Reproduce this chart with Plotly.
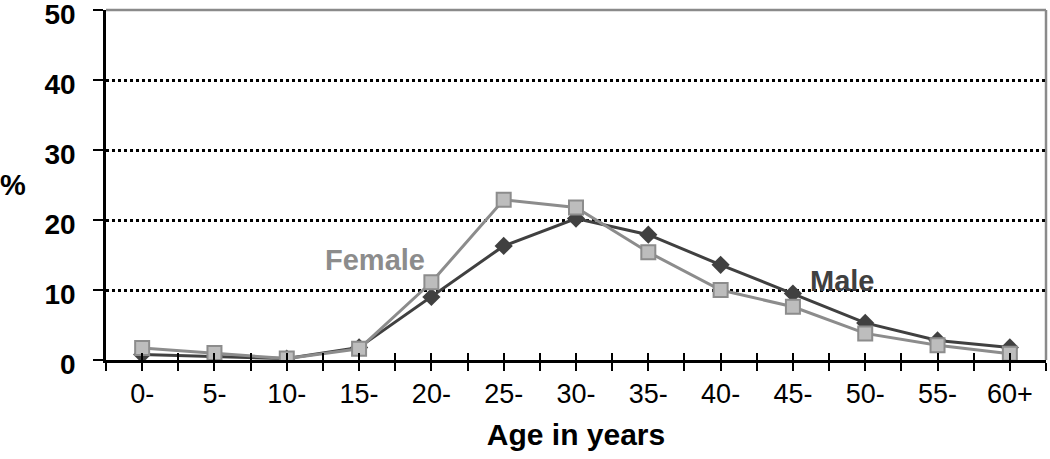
import plotly.graph_objects as go

categories = ["0-", "5-", "10-", "15-", "20-", "25-", "30-", "35-", "40-", "45-", "50-", "55-", "60+"]
male = [0.8, 0.5, 0.2, 1.8, 9.0, 16.3, 20.2, 17.9, 13.6, 9.5, 5.3, 2.8, 1.8]
female = [1.7, 1.0, 0.2, 1.6, 11.1, 22.9, 21.8, 15.4, 10.0, 7.6, 3.8, 2.1, 0.9]
y_ticks = [0, 10, 20, 30, 40, 50]
grid_vals = [10, 20, 30, 40]

n = len(categories)
xpos = list(range(n))
tickvals = []
ticktext = []
for i in range(n):
    tickvals.append(i - 0.5)
    ticktext.append("")
    tickvals.append(i)
    ticktext.append(categories[i])
tickvals.append(n - 0.5)
ticktext.append("")

MALE_C = "#404040"
FEM_LINE = "#8c8c8c"
FEM_FILL = "#bdbdbd"
font_family = "Liberation Sans, Arial"

fig = go.Figure()
fig.add_trace(go.Scatter(
    x=xpos, y=male, mode="lines+markers", name="Male",
    line=dict(color=MALE_C, width=3),
    marker=dict(symbol="diamond", size=14, color=MALE_C),
))
fig.add_trace(go.Scatter(
    x=xpos, y=female, mode="lines+markers", name="Female",
    line=dict(color=FEM_LINE, width=3),
    marker=dict(symbol="square", size=14, color=FEM_FILL, line=dict(color=FEM_LINE, width=2)),
))
# invisible trace carrying the grid/inner-tick axes
fig.add_trace(go.Scatter(x=[0], y=[0], xaxis="x2", yaxis="y2", mode="markers",
                         marker=dict(opacity=0), showlegend=False, hoverinfo="skip"))

fig.add_annotation(x=3.22, y=14.3, text="Female", showarrow=False,
                   font=dict(family=font_family, size=29, color="#8c8c8c", weight="bold"))
fig.add_annotation(x=9.68, y=11.3, text="Male", showarrow=False,
                   font=dict(family=font_family, size=29, color="#404040", weight="bold"))
fig.add_annotation(xref="paper", yref="paper", x=-0.099, y=0.5, xanchor="center", yanchor="middle",
                   text="%", showarrow=False,
                   font=dict(family=font_family, size=29, color="black", weight="bold"))

# plot border top/right
fig.add_shape(type="line", xref="paper", yref="paper", x0=0, x1=1, y0=1, y1=1,
              line=dict(color="#8a8a8a", width=2.5), layer="below")
fig.add_shape(type="line", xref="paper", yref="paper", x0=1, x1=1, y0=0, y1=1,
              line=dict(color="#8a8a8a", width=2.5), layer="below")

fig.update_layout(
    width=1050, height=459,
    margin=dict(l=106, r=4, t=10, b=99),
    plot_bgcolor="white", paper_bgcolor="white",
    showlegend=False,
    font=dict(family=font_family, color="black"),
    xaxis=dict(
        range=[-0.5, n - 0.5], tickmode="array", tickvals=tickvals, ticktext=ticktext,
        ticks="outside", ticklen=8, tickwidth=2, tickcolor="black",
        showline=True, linecolor="black", linewidth=2.5, showgrid=False, zeroline=False,
        tickfont=dict(size=27, family=font_family), automargin=False,
        title=dict(text="Age in years", font=dict(size=30, family=font_family, weight="bold"),
                   standoff=16),
    ),
    yaxis=dict(
        range=[0, 50], tickmode="array", tickvals=y_ticks,
        ticks="outside", ticklen=10, tickwidth=2, tickcolor="black",
        showline=True, linecolor="black", linewidth=2.5, showgrid=False, zeroline=False,
        tickfont=dict(size=28, family=font_family, weight="bold"),
        ticklabelstandoff=12, ticklabelshift=4, automargin=False, ticklabeloverflow="allow",
    ),
    xaxis2=dict(range=[-0.5, n - 0.5], overlaying="x", tickmode="array", tickvals=tickvals,
                ticktext=[""] * len(tickvals), ticks="inside", ticklen=7, tickwidth=2,
                tickcolor="black", showgrid=False, showline=False, zeroline=False, anchor="y2",
                side="bottom", automargin=False),
    yaxis2=dict(range=[0, 50], overlaying="y", tickmode="array", tickvals=grid_vals,
                showticklabels=False, ticks="", showgrid=True, gridcolor="black",
                griddash="dot", gridwidth=2.5, zeroline=False, showline=False, anchor="x2",
                automargin=False),
)
fig.write_html("out.html", config={"displayModeBar": False},
               post_script="document.body.style.margin='0';document.body.style.overflow='hidden';")
